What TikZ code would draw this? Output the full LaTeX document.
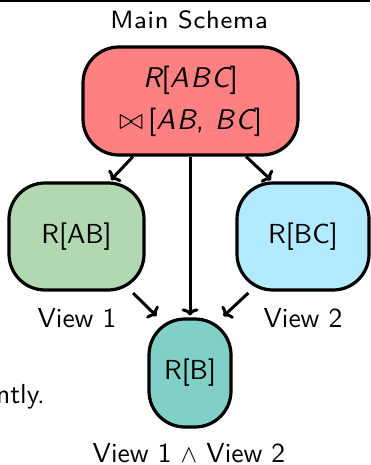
\documentclass[tikz,border=0pt]{standalone}
\usepackage{fontspec}
\newfontfamily\lmsten{lmsans10-regular.otf}
\newfontfamily\lmseight[LetterSpace=3]{lmsans8-regular.otf}
\newfontfamily\lmsobl[LetterSpace=6]{lmsans10-oblique.otf}
\newfontfamily\lmsup[LetterSpace=5]{lmsans10-regular.otf}
\usetikzlibrary{arrows.meta}
\definecolor{mainred}{RGB}{255,128,128}
\definecolor{viewgreen}{RGB}{178,216,178}
\definecolor{viewblue}{RGB}{178,235,255}
\definecolor{viewteal}{RGB}{128,208,200}
\tikzset{
  box/.style={draw=black, line width=3.2pt, rounded corners=36pt, inner sep=0pt, align=center,
    font=\fontsize{27.5}{33}\selectfont\lmsten},
  mathbox/.style={box, font=\fontsize{28.5}{42}\selectfont\lmsup},
  lbl/.style={anchor=base, inner sep=0pt, font=\fontsize{27.5}{33}\selectfont\lmsten},
  ttl/.style={anchor=base, inner sep=0pt, font=\fontsize{25}{30}\selectfont\lmseight},
  conn/.style={line width=3pt, -{To[length=7pt,width=17pt]}, shorten >=2pt},
  rule/.style={line width=1.6pt}
}
\begin{document}
\begin{tikzpicture}[x=1pt,y=1pt]
\useasboundingbox (0,0) rectangle (370,-465);
\coordinate (ruleL) at (0,-0.8);
\coordinate (ruleR) at (370,-0.8);
\draw[rule] (ruleL) -- (ruleR);
\node[ttl] (title) at (189,-29) {Main Schema};
\node[mathbox, fill=mainred, minimum width=215pt, minimum height=108pt] (main) at (190.5,-101)
  {{\lmsobl R}[{\lmsobl ABC}]\\ \scalebox{1.2}{$\bowtie$}\,[{\lmsobl AB}, {\lmsobl BC}]};
\node[box, fill=viewgreen, minimum width=135pt, minimum height=107pt] (ab) at (76.5,-236.5) {R[AB]};
\node[box, fill=viewblue, minimum width=132pt, minimum height=107pt] (bc) at (303,-236.5) {R[BC]};
\node[box, fill=viewteal, minimum width=82pt, minimum height=108pt] (b) at (190,-373) {R[B]};
\node[lbl] (v1) at (77,-327) {View 1};
\node[lbl] (v2) at (303,-327) {View 2};
\node[lbl] (v12) at (189,-462.5) {View 1 $\wedge$ View 2};
\node[lbl, anchor=base east] (cut) at (45,-403) {ntly.};
\draw[conn] (main.224) -- (ab.59);
\draw[conn] (main.315) -- (bc.119);
\draw[conn] (main.south -| b.north) -- (b.north);
\draw[conn, shorten <=2pt] (ab.315) -- (b.120);
\draw[conn, shorten <=2pt] (bc.226) -- (b.60);
\end{tikzpicture}
\end{document}
